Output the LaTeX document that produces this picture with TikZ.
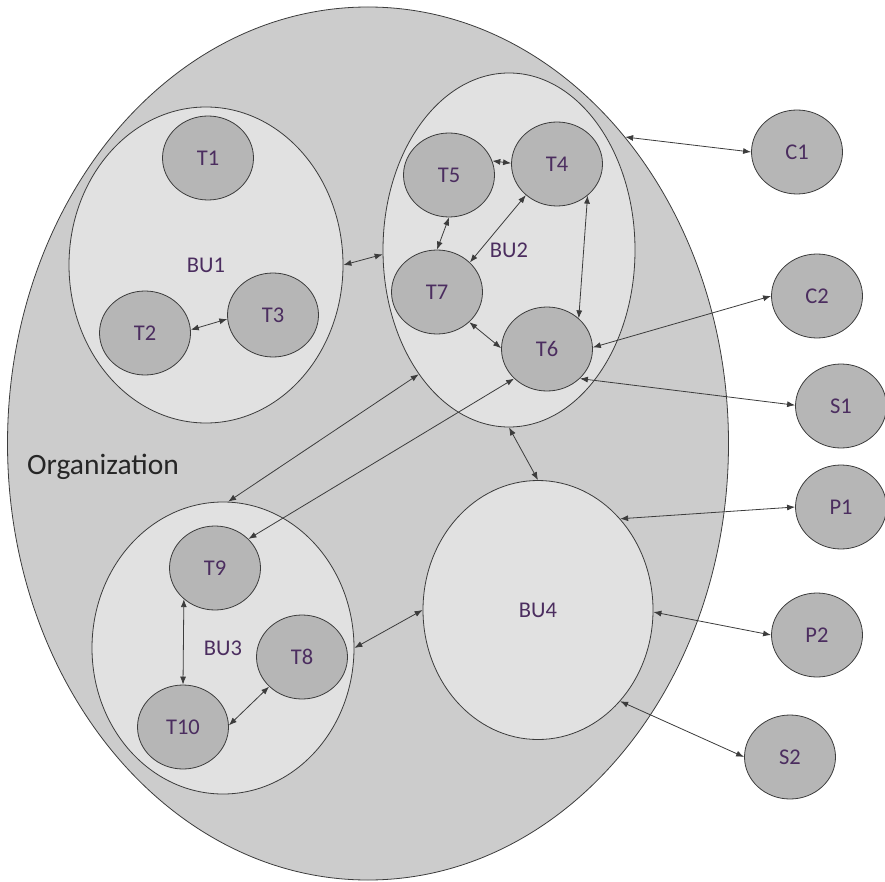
\documentclass[tikz,border=0pt]{standalone}
\usepackage{fontspec}
\setmainfont{Carlito}
\usepackage{tikz}
\usetikzlibrary{shapes.geometric, arrows.meta}
\definecolor{myorg}{RGB}{204,204,204}
\definecolor{myunit}{RGB}{225,225,225}
\definecolor{myteam}{RGB}{182,182,182}
\definecolor{myline}{RGB}{60,60,60}
\definecolor{mypurp}{RGB}{75,45,95}
\tikzstyle{orga} = [ellipse, minimum width=721pt, minimum height=873pt, draw=myline, fill=myorg, line width=0.8pt]
\tikzstyle{unit} = [ellipse, draw=myline, fill=myunit, text=mypurp, line width=0.8pt, font=\fontsize{22.5}{25}\selectfont]
\tikzstyle{team} = [ellipse, minimum width=91pt, minimum height=84pt, draw=myline, fill=myteam, text=mypurp, line width=0.8pt, font=\fontsize{22.5}{25}\selectfont]
\tikzstyle{link} = [<->, >={Latex[length=8pt,width=6pt]}, line width=0.8pt, myline]

\begin{document}
\begin{tikzpicture}[x=1pt,y=-1pt]
	\useasboundingbox (0,0) rectangle (885,882);
	\node (org)[orga] at (368,443.5) {};
	\node (orglabel)[anchor=base west, inner sep=0pt, text=black!85, font=\fontsize{29.5}{33}\selectfont] at (27,474) {Organization};
	\node (bu1)[unit, minimum width=274pt, minimum height=316pt] at (206,265) {BU1};
	\node (bu2)[unit, minimum width=252pt, minimum height=354pt] at (509,250) {BU2};
	\node (bu3)[unit, minimum width=262pt, minimum height=292pt] at (223,648) {BU3};
	\node (bu4)[unit, minimum width=230pt, minimum height=259pt] at (538,610) {BU4};
	\node (t1)[team] at (208,158) {T1};
	\node (t2)[team] at (145,333) {T2};
	\node (t3)[team] at (273,315) {T3};
	\node (t4)[team] at (557,164) {T4};
	\node (t5)[team] at (449,175) {T5};
	\node (t6)[team] at (547,349) {T6};
	\node (t7)[team] at (437,292) {T7};
	\node (t8)[team] at (302,657) {T8};
	\node (t9)[team] at (215,568) {T9};
	\node (t10)[team] at (183,727) {T10};
	\node (c1)[team] at (797,152) {C1};
	\node (c2)[team] at (817,296) {C2};
	\node (s1)[team] at (841,406) {S1};
	\node (p1)[team] at (841,507) {P1};
	\node (p2)[team] at (817,635) {P2};
	\node (s2)[team] at (790,757) {S2};
	\draw [link] (bu1.0) -- (bu2.182);
	\draw [link] (t2.4) -- (t3.185);
	\draw [link] (t5.18) -- (t4.179);
	\draw [link] (t5.270) -- (t7.90);
	\draw [link] (t4.225) -- (t7.42);
	\draw [link] (t4.314) -- (t6.44);
	\draw [link] (t7.317) -- (t6.179);
	\draw [link] (t6.2) -- (c2.180);
	\draw [link] (t6.318) -- (s1.179);
	\draw [link] (bu2.234) -- (bu3.88);
	\draw [link] (t6.222) -- (t9.41);
	\draw [link] (bu2.270) -- (bu4.90);
	\draw [link] (bu3.0) -- (bu4.180);
	\draw [link] (t9.225) -- (t10.90);
	\draw [link] (t10.2) -- (t8.222);
	\draw [link] (org.50) -- (c1.180);
	\draw [link] (bu4.48) -- (p1.180);
	\draw [link] (bu4.359) -- (p2.180);
	\draw [link] (bu4.312) -- (s2.180);
\end{tikzpicture}
\end{document}
